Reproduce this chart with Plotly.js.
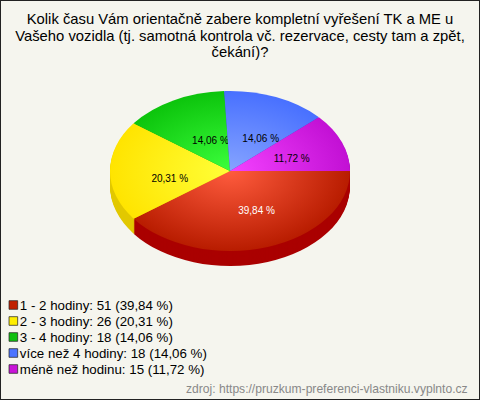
<!DOCTYPE html>
<html><head><meta charset="utf-8">
<script src="https://cdn.plot.ly/plotly-3.0.1.min.js"></script>
<style>html,body{margin:0;padding:0;background:#f5f5ee}#c{width:480px;height:400px}</style>
</head><body><div id="c"></div>
<script>
const categories = ['1 - 2 hodiny','2 - 3 hodiny','3 - 4 hodiny','více než 4 hodiny','méně než hodinu'];
const counts = [51,26,18,18,15];
const percents = ['39,84 %','20,31 %','14,06 %','14,06 %','11,72 %'];
const swatch = ['#c02000','#ffee00','#10c010','#4c74ff','#c814d8'];
const side = ['#aa0000','#e2c800','#0a9a0a','#3050c0','#9010a0'];
const inner = ['#ff5c3e','#ffff38','#3cff3c','#86a4ff','#f442ff'];
const outer = ['#b81c00','#ffe400','#0cc40c','#4870ff','#c210d4'];
const labelColor = ['#ffffff','#000000','#000000','#000000','#000000'];
const title = 'Kolik času Vám orientačně zabere kompletní vyřešení TK a ME u<br>Vašeho vozidla (tj. samotná kontrola vč. rezervace, cesty tam a zpět,<br>čekání)?';
const source = 'zdroj: https://pruzkum-preferenci-vlastniku.vyplnto.cz';

const W=480,H=400,CX=230,CY=171,RX=120,K=2/3,DEPTH=15;
const labels = categories.map((c,i)=>`${c}: ${counts[i]} (${percents[i]})`);
const dom = off=>({x:[(CX-RX)/W,(CX+RX)/W],y:[1-(CY+RX+off)/H,1-(CY-RX+off)/H]});
const base = {type:'pie',labels,values:counts,sort:false,direction:'clockwise',rotation:90,hoverinfo:'skip'};
const data=[];
for(let d=DEPTH;d>=1;d--){
  data.push({...base,domain:dom(d/K),textinfo:'none',showlegend:false,marker:{colors:side,line:{width:0}}});
}
data.push({...base,domain:dom(0),text:percents,textinfo:'text',textposition:'inside',
  insidetextorientation:'horizontal',textfont:{size:10,color:labelColor,family:'Liberation Sans'},
  showlegend:true,marker:{colors:swatch,line:{width:0}}});

const layout={width:W,height:H,margin:{l:0,r:0,t:0,b:0,autoexpand:false},
  paper_bgcolor:'#f5f5ee',plot_bgcolor:'#f5f5ee',
  font:{family:'Liberation Sans',size:12,color:'#000'},
  title:{text:title,font:{size:14.8,color:'#000',family:'Liberation Sans'},x:0.5,xanchor:'center',y:0.94,yanchor:'top'},
  legend:{x:0.008,xanchor:'left',y:1-296/H,yanchor:'top',bgcolor:'rgba(0,0,0,0)',borderwidth:0,font:{size:13.3,color:'#000'},traceorder:'normal'},
  annotations:[{text:source,xref:'paper',yref:'paper',x:470/W,xanchor:'right',y:1-389/H,yanchor:'middle',showarrow:false,font:{size:12.1,color:'#888'}}],
  shapes:[{type:'rect',xref:'paper',yref:'paper',x0:0,x1:1,y0:0,y1:1,line:{color:'#222',width:2},fillcolor:'rgba(0,0,0,0)'}]
};

const labelFraction=0.5, labelNudge=[[8,1],[0,7],[9,5],[8,4],[6,2]], titleLeading=16.5;
Plotly.newPlot('c',data,layout,{displayModeBar:false,staticPlot:true}).then(gd=>{
  const NS='http://www.w3.org/2000/svg';
  const svg=gd.querySelector('svg.main-svg');
  const defs=svg.querySelector('defs')||svg.insertBefore(document.createElementNS(NS,'defs'),svg.firstChild);
  const top=gd.calcdata[gd.calcdata.length-1];
  const cx=top[0].cx,cy=top[0].cy,r=top[0].r;
  inner.forEach((c,i)=>{
    const g=document.createElementNS(NS,'radialGradient');
    g.setAttribute('id','sl'+i);g.setAttribute('gradientUnits','userSpaceOnUse');
    g.setAttribute('cx',cx);g.setAttribute('cy',cy);g.setAttribute('r',r);
    [[0,c],[1,outer[i]]].forEach(([o,col])=>{const s=document.createElementNS(NS,'stop');s.setAttribute('offset',o);s.setAttribute('stop-color',col);g.appendChild(s);});
    defs.appendChild(g);
  });
  const layer=gd.querySelector('.pielayer');
  layer.setAttribute('transform',`translate(0,${cy}) scale(1,${K}) translate(0,${-cy})`);
  const traces=layer.querySelectorAll('.trace');
  const last=traces[traces.length-1];
  let acc=0;const total=counts.reduce((a,b)=>a+b,0);
  last.querySelectorAll('.slice').forEach((s,i)=>{
    s.querySelector('path').style.fill=`url(#sl${i})`;
    const mid=Math.PI/2+(acc+counts[i]/2)/total*2*Math.PI;acc+=counts[i];
    const t=s.querySelector('text');
    if(t){
      t.removeAttribute('transform');
      const b=t.getBBox();
      const x=cx+r*labelFraction*Math.sin(mid)+labelNudge[i][0];
      const y=cy-r*labelFraction*Math.cos(mid)+labelNudge[i][1]/K;
      t.setAttribute('transform',`translate(${x},${y}) scale(1,${1/K}) translate(${-(b.x+b.width/2)},${-(b.y+b.height/2)})`);
    }
  });
  gd.querySelectorAll('.gtitle tspan.line').forEach((s,i)=>s.setAttribute('dy',(i*titleLeading)+'px'));
  gd.querySelectorAll('.legend .traces').forEach((t,i)=>{
    t.setAttribute('transform',`translate(0,${i*16+9})`);
    const p=t.querySelector('.legendpie');
    if(p){p.style.stroke='#222';p.style.strokeWidth='1px';p.setAttribute('transform','translate(9.5,0) scale(0.72)');p.setAttribute('d','M6,6H-6V-6H6Z');}
    const tx=t.querySelector('text.legendtext');
    if(tx){tx.setAttribute('x','16');tx.querySelectorAll('tspan').forEach(s=>{if(s.hasAttribute('x'))s.setAttribute('x','16');});}
  });
});
</script></body></html>
